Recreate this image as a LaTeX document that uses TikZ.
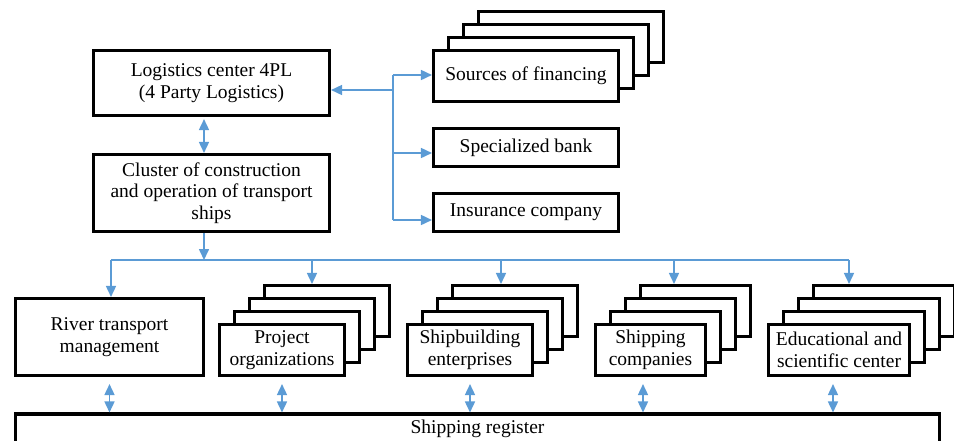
\documentclass[tikz,border=0pt]{standalone}
\usepackage{fontspec}
\setmainfont{Liberation Serif}
\usepackage{tikz}
\usetikzlibrary{arrows.meta,shadows}
\definecolor{linkblue}{HTML}{5B9BD5}
\tikzset{
  box/.style={draw, line width=3.1pt, fill=white, align=center, inner sep=0pt,
    font=\fontsize{19.5}{21.5}\selectfont},
  stack/.style={
    general shadow={fill=white, draw=black, line width=2.8pt, shadow xshift=45pt, shadow yshift=39pt},
    general shadow={fill=white, draw=black, line width=2.8pt, shadow xshift=30pt, shadow yshift=26pt},
    general shadow={fill=white, draw=black, line width=2.8pt, shadow xshift=15pt, shadow yshift=13pt}},
  link/.style={draw=linkblue, line width=1.6pt}
}
\begin{document}
\begin{tikzpicture}[x=1pt, y=-1pt, >={Triangle[length=11pt,width=10pt]}]
  \useasboundingbox (0,0) rectangle (954,440);
  \node[box, minimum width=236pt, minimum height=65pt] (lc) at (211.5,83) {Logistics center 4PL\\(4 Party Logistics)};
  \node[box, minimum width=236pt, minimum height=77pt] (cl) at (211.5,193) {Cluster of construction\\and operation of transport\\ships};
  \node[box, stack, minimum width=185pt, minimum height=51pt] (src) at (526,76) {Sources of financing};
  \node[box, minimum width=185pt, minimum height=38pt] (sb) at (526,147.5) {Specialized bank};
  \node[box, minimum width=185pt, minimum height=38pt] (ins) at (526,212.5) {Insurance company};
  \node[box, minimum width=188pt, minimum height=77pt] (rtm) at (109.5,337) {River transport\\management};
  \node[box, stack, minimum width=125pt, minimum height=51pt] (prj) at (282,350) {Project\\organizations};
  \node[box, stack, minimum width=125pt, minimum height=51pt] (sbe) at (470,350) {Shipbuilding\\enterprises};
  \node[box, stack, minimum width=110pt, minimum height=51pt] (shc) at (650.5,350) {Shipping\\companies};
  \node[box, stack, minimum width=141pt, minimum height=51pt] (edu) at (839,350) {Educational and\\scientific center};
  \node[box, minimum width=924pt, minimum height=30pt] (reg) at (477.5,429) {Shipping register};

  \coordinate (j1) at (393,90);
  \coordinate (j2) at (393,75);
  \coordinate (j3) at (393,220);
  \coordinate (j4) at (393,153);
  \draw[link] (j2) -- (j3);
  \draw[link,->] (j1) -- (lc.east |- j1);
  \draw[link,->] (j2) -- (src.west |- j2);
  \draw[link,->] (j4) -- (sb.west |- j4);
  \draw[link,->] (j3) -- (ins.west |- j3);
  \draw[link,<->, shorten <=2pt] ([xshift=-7.5pt]lc.south) -- ([xshift=-7.5pt]cl.north);

  \coordinate (b0) at (204,260);
  \coordinate (bl) at (111,260);
  \coordinate (b1) at (312,260);
  \coordinate (b2) at (501,260);
  \coordinate (b3) at (674,260);
  \coordinate (br) at (849,260);
  \draw[link,->] ([xshift=-7.5pt]cl.south) -- (b0);
  \draw[link] (bl) -- (br);
  \draw[link,->] (bl) -- (rtm.north -| bl);
  \draw[link,->, shorten >=39pt] (b1) -- (b1 |- prj.north);
  \draw[link,->, shorten >=39pt] (b2) -- (b2 |- sbe.north);
  \draw[link,->, shorten >=39pt] (b3) -- (b3 |- shc.north);
  \draw[link,->, shorten >=39pt] (br) -- (br |- edu.north);

  \coordinate (s4) at ([xshift=-7.5pt]shc.south);
  \coordinate (s5) at ([xshift=-6pt]edu.south);
  \draw[link,<->, shorten <=7pt] (rtm.south) -- (reg.north -| rtm.south);
  \draw[link,<->, shorten <=7pt] (prj.south) -- (reg.north -| prj.south);
  \draw[link,<->, shorten <=7pt] (sbe.south) -- (reg.north -| sbe.south);
  \draw[link,<->, shorten <=7pt] (s4) -- (reg.north -| s4);
  \draw[link,<->, shorten <=7pt] (s5) -- (reg.north -| s5);
\end{tikzpicture}
\end{document}
